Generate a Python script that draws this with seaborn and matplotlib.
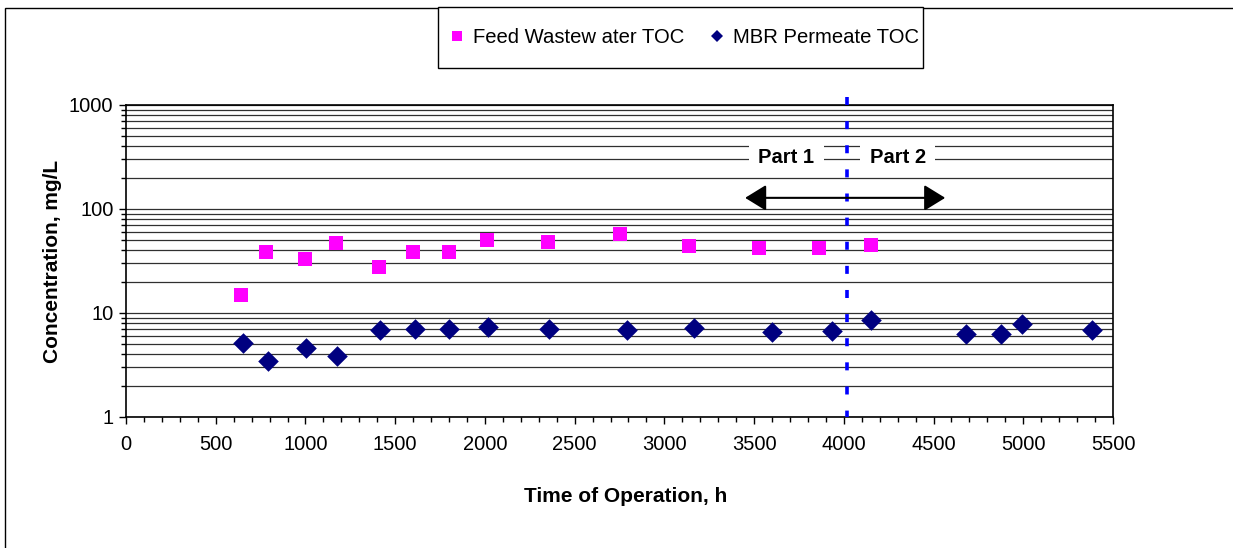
import matplotlib
matplotlib.use("Agg")
import matplotlib.pyplot as plt
import seaborn as sns
import pandas as pd
from matplotlib.lines import Line2D
from matplotlib.patches import Rectangle
from matplotlib.ticker import MultipleLocator, LogLocator, NullFormatter, FixedLocator

# Data
feed_hours = [640, 780, 1000, 1170, 1410, 1600, 1800, 2010, 2350, 2750, 3140, 3530, 3860, 4150]
feed_toc = [15, 38.5, 32.7, 47.6, 27.4, 38.5, 38.5, 50, 48, 57, 44.5, 42.5, 42.5, 45]

perm_hours = [650, 790, 1005, 1175, 1415, 1610, 1800, 2020, 2355, 2790, 3165, 3600, 3935, 4150,
              4680, 4875, 4995, 5385]
perm_toc = [5.2, 3.45, 4.6, 3.9, 6.8, 7.0, 7.0, 7.4, 7.0, 6.8, 7.1, 6.5, 6.7, 8.5,
            6.25, 6.25, 7.8, 6.8]

y_ticks = [1, 10, 100, 1000]
y_tick_labels = ["1", "10", "100", "1000"]

split_hour = 4020
arrow_span = (3450, 4565)
arrow_level = 128
part_level = 310
part_labels = ["Part 1", "Part 2"]
part_hours = [3680, 4300]

feed_label = "Feed Wastew ater TOC"
perm_label = "MBR Permeate TOC"

FEED_COLOR = "#FF00FF"
PERM_COLOR = "#000080"

sns.set_style("white")
plt.rcParams["font.family"] = ["Liberation Sans", "DejaVu Sans"]
plt.rcParams["text.color"] = "black"
plt.rcParams["axes.labelcolor"] = "black"
plt.rcParams["xtick.color"] = "black"
plt.rcParams["ytick.color"] = "black"

feed = pd.DataFrame({"hours": feed_hours, "toc": feed_toc})
perm = pd.DataFrame({"hours": perm_hours, "toc": perm_toc})

fig = plt.figure(figsize=(12.33, 5.48), dpi=100)
ax = fig.add_axes([126 / 1233, 1 - 417 / 548, 987 / 1233, 312 / 548])

sns.scatterplot(data=feed, x="hours", y="toc", marker="s", s=112, color=FEED_COLOR,
                linewidth=0, ax=ax, zorder=4)
sns.scatterplot(data=perm, x="hours", y="toc", marker="D", s=110, color=PERM_COLOR,
                linewidth=0, ax=ax, zorder=4)

ax.set_yscale("log")
ax.set_xlim(0, 5500)
ax.set_ylim(1, 1000)

ax.xaxis.set_major_locator(MultipleLocator(500))
ax.xaxis.set_minor_locator(MultipleLocator(100))
ax.yaxis.set_major_locator(FixedLocator(y_ticks))
ax.set_yticklabels(y_tick_labels)
ax.yaxis.set_minor_locator(LogLocator(base=10, subs=range(2, 10)))
ax.yaxis.set_minor_formatter(NullFormatter())

ax.grid(True, which="both", axis="y", color="#303030", linewidth=0.9)
ax.grid(False, axis="x", which="both")
ax.set_axisbelow(True)

ax.tick_params(axis="both", which="major", direction="out", length=5, width=1,
               color="black", labelsize=14.5, labelcolor="black", bottom=True, left=True)
ax.tick_params(axis="both", which="minor", direction="out", length=3.5, width=1,
               color="black", bottom=True, left=True)
ax.tick_params(axis="x", which="major", pad=8)
ax.tick_params(axis="y", which="major", pad=4)

for side in ["left", "right", "top", "bottom"]:
    ax.spines[side].set_visible(True)
    ax.spines[side].set_color("black")
    ax.spines[side].set_linewidth(1.2)

ax.set_xlabel("Time of Operation, h", fontsize=15, fontweight="bold")
ax.set_ylabel("Concentration, mg/L", fontsize=15, fontweight="bold")
ax.xaxis.set_label_coords(0.5065, -0.225)
ax.yaxis.set_label_coords(-0.065, 0.5)

# phase split and annotations (drawn top-down so the dash pattern starts above the plot)
ax.plot([split_hour, split_hour], [1200, 1], color="#0000FF", linewidth=2.6,
        dashes=(2.22, 4.46), clip_on=False, zorder=5)
ax.annotate("", xy=(arrow_span[1], arrow_level), xytext=(arrow_span[0], arrow_level),
            arrowprops=dict(arrowstyle="<|-|>,head_length=0.65,head_width=0.4",
                            mutation_scale=20, color="black", lw=1.5,
                            shrinkA=0, shrinkB=0), zorder=5)
for lbl, hx in zip(part_labels, part_hours):
    ax.text(hx, part_level, lbl, ha="center", va="center", fontsize=14.5,
            fontweight="bold", zorder=5,
            bbox=dict(facecolor="white", edgecolor="none", pad=7))

# figure border and legend box
fig.patches.append(Rectangle((5 / 1233, -0.05), 1.1, 1 - 8 / 548 + 0.05,
                             transform=fig.transFigure, fill=False,
                             edgecolor="black", linewidth=1))
fig.patches.append(Rectangle((438 / 1233, 1 - 68 / 548), 485 / 1233, 61 / 548,
                             transform=fig.transFigure, facecolor="white",
                             edgecolor="black", linewidth=1))

handles = [Line2D([], [], linestyle="none", marker="s", markersize=7.5,
                  color=FEED_COLOR, markeredgewidth=0),
           Line2D([], [], linestyle="none", marker="D", markersize=6,
                  color=PERM_COLOR, markeredgewidth=0)]
fig.legend(handles, [feed_label, perm_label], ncol=2, frameon=False,
           loc="center", bbox_to_anchor=(684 / 1233, 1 - 37.5 / 548),
           fontsize=14.6, handlelength=0.8, handletextpad=0.4, columnspacing=1.2)

fig.savefig("out.png", dpi=100)
